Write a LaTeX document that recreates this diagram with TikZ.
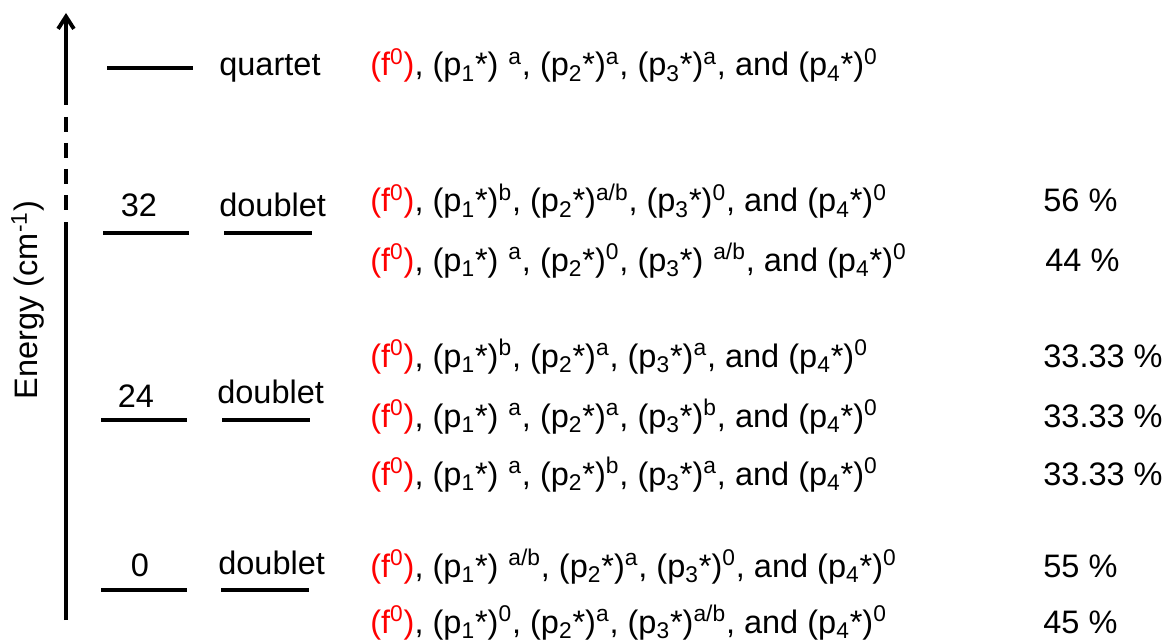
\documentclass[tikz,border=0pt]{standalone}
\usepackage{fontspec}
\setmainfont{Liberation Sans}
\usepackage{xcolor}
\usetikzlibrary{arrows.meta}

\newcommand{\fzero}{\textcolor{red}{(f\textsuperscript{0})}}
\newcommand{\orb}[2]{(p\textsubscript{#1}*)\textsuperscript{#2}}

\begin{document}
\begin{tikzpicture}[
    x=0.02cm, y=-0.02cm,
    every node/.style={inner sep=0pt, font=\fontsize{18.5}{22}\selectfont},
    level/.style={line width=2.2pt},
    axis/.style={line width=2.2pt},
    config/.style={anchor=base west},
    pct/.style={anchor=base west},
    spin/.style={anchor=base west},
    energy/.style={anchor=base}
]
\useasboundingbox (0,0) rectangle (1167,642);

% energy axis
\coordinate (ax0) at (66,620);
\coordinate (ax1) at (66,222);
\coordinate (ax4) at (66,105);
\coordinate (ax5) at (66,13);
\draw[axis] (ax0) -- (ax1);
\foreach \ya in {117,143,169,195}
    \draw[axis] (66,\ya) -- (66,\ya+15);
\draw[axis, -{Straight Barb[length=7pt, width=9pt, line width=2.2pt]}] (ax4) -- (ax5);
\node[rotate=90] (elabel) at (28,300) {Energy (cm\textsuperscript{-1})};

% quartet
\draw[level] (107,68) -- (193,68);
\node[spin] (qt) at (219,76) {quartet};
\node[config] (q1) at (370,76) {\fzero, \orb{1}{} \textsuperscript{a}, \orb{2}{a}, \orb{3}{a}, and \orb{4}{0}};

% doublet 32
\draw[level] (103,233) -- (189,233);
\draw[level] (224,233) -- (312,233);
\node[energy] (e32) at (139,216) {32};
\node[spin] (d32) at (219,216) {doublet};
\node[config] (c32a) at (370,212) {\fzero, \orb{1}{b}, \orb{2}{a/b}, \orb{3}{0}, and \orb{4}{0}};
\node[config] (c32b) at (370,271) {\fzero, \orb{1}{} \textsuperscript{a}, \orb{2}{0}, \orb{3}{} \textsuperscript{a/b}, and \orb{4}{0}};
\node[pct] (p32a) at (1043,212) {56 \%};
\node[pct] (p32b) at (1045,271) {44 \%};

% doublet 24
\draw[level] (101,420) -- (187,420);
\draw[level] (222,420) -- (310,420);
\node[energy] (e24) at (136,407) {24};
\node[spin] (d24) at (217,403) {doublet};
\node[config] (c24a) at (370,367) {\fzero, \orb{1}{b}, \orb{2}{a}, \orb{3}{a}, and \orb{4}{0}};
\node[config] (c24b) at (370,427) {\fzero, \orb{1}{} \textsuperscript{a}, \orb{2}{a}, \orb{3}{b}, and \orb{4}{0}};
\node[config] (c24c) at (370,485) {\fzero, \orb{1}{} \textsuperscript{a}, \orb{2}{b}, \orb{3}{a}, and \orb{4}{0}};
\node[pct] (p24a) at (1043,367) {33.33 \%};
\node[pct] (p24b) at (1043,427) {33.33 \%};
\node[pct] (p24c) at (1043,485) {33.33 \%};

% doublet 0
\draw[level] (101,590) -- (187,590);
\draw[level] (221,590) -- (309,590);
\node[energy] (e0) at (140,576) {0};
\node[spin] (d0) at (218,574) {doublet};
\node[config] (c0a) at (370,577) {\fzero, \orb{1}{} \textsuperscript{a/b}, \orb{2}{a}, \orb{3}{0}, and \orb{4}{0}};
\node[config] (c0b) at (370,633) {\fzero, \orb{1}{0}, \orb{2}{a}, \orb{3}{a/b}, and \orb{4}{0}};
\node[pct] (p0a) at (1043,577) {55 \%};
\node[pct] (p0b) at (1043,633) {45 \%};

\end{tikzpicture}
\end{document}
